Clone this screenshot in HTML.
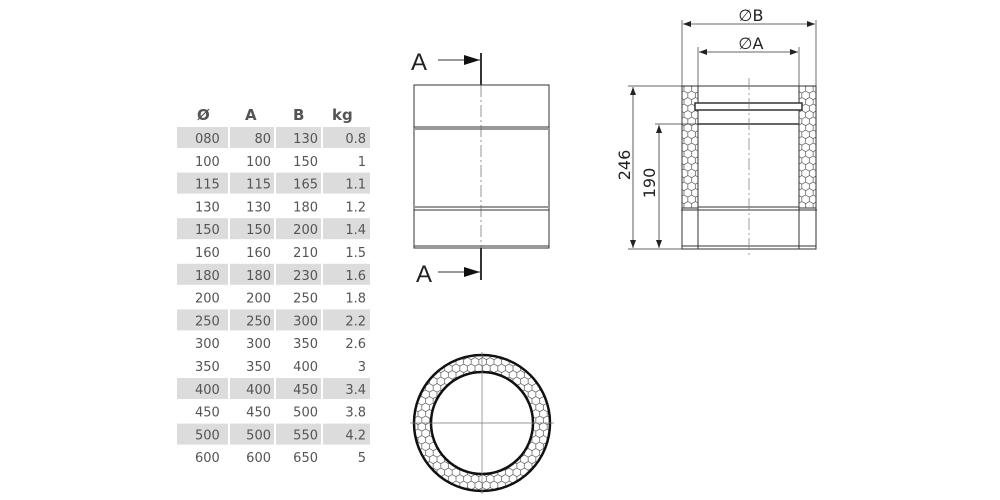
<!DOCTYPE html>
<html><head><meta charset="utf-8"><style>
html,body{margin:0;padding:0;background:#fff;width:1000px;height:500px;overflow:hidden}
svg{display:block}
.t{font-family:"DejaVu Sans","Liberation Sans",sans-serif;font-size:13px;fill:#555}
.h{font-family:"DejaVu Sans","Liberation Sans",sans-serif;font-size:15px;font-weight:bold;fill:#555}
.d{font-family:"DejaVu Sans","Liberation Sans",sans-serif;font-size:16px;fill:#222}
</style></head><body>
<svg width="1000" height="500" viewBox="0 0 1000 500" xmlns="http://www.w3.org/2000/svg">
<defs>
<pattern id="hx" width="7.6" height="13" patternUnits="userSpaceOnUse">
<path d="M0,0 L3.8,2.2 L3.8,6.5 L0,8.7 M3.8,2.2 L7.6,0 M3.8,6.5 L7.6,8.7 M0,8.7 L0,13 M7.6,8.7 L7.6,13" fill="none" stroke="#555" stroke-width="0.7"/>
</pattern>
<marker id="ar" markerWidth="8" markerHeight="6" refX="8" refY="3" orient="auto" markerUnits="userSpaceOnUse"><path d="M0,0 L8,3 L0,6z" fill="#222"/></marker>
<marker id="al" markerWidth="8" markerHeight="6" refX="0" refY="3" orient="auto" markerUnits="userSpaceOnUse"><path d="M8,0 L0,3 L8,6z" fill="#222"/></marker>
<marker id="big" markerWidth="16" markerHeight="10" refX="16" refY="5" orient="auto" markerUnits="userSpaceOnUse"><path d="M0,0 L16,5 L0,10z" fill="#111"/></marker>
</defs>

<g>
<text class="h" x="197" y="120">Ø</text>
<text class="h" x="245" y="120">A</text>
<text class="h" x="293" y="120">B</text>
<text class="h" x="332" y="120">kg</text>
</g>
<g fill="#dcdcdc">
<rect x="177" y="127" width="51" height="21"/><rect x="230" y="127" width="44" height="21"/><rect x="276" y="127" width="45" height="21"/><rect x="323" y="127" width="47" height="21"/>
<rect x="177" y="172.6" width="51" height="21"/><rect x="230" y="172.6" width="44" height="21"/><rect x="276" y="172.6" width="45" height="21"/><rect x="323" y="172.6" width="47" height="21"/>
<rect x="177" y="218.2" width="51" height="21"/><rect x="230" y="218.2" width="44" height="21"/><rect x="276" y="218.2" width="45" height="21"/><rect x="323" y="218.2" width="47" height="21"/>
<rect x="177" y="263.8" width="51" height="21"/><rect x="230" y="263.8" width="44" height="21"/><rect x="276" y="263.8" width="45" height="21"/><rect x="323" y="263.8" width="47" height="21"/>
<rect x="177" y="309.4" width="51" height="21"/><rect x="230" y="309.4" width="44" height="21"/><rect x="276" y="309.4" width="45" height="21"/><rect x="323" y="309.4" width="47" height="21"/>
<rect x="177" y="378" width="51" height="21"/><rect x="230" y="378" width="44" height="21"/><rect x="276" y="378" width="45" height="21"/><rect x="323" y="378" width="47" height="21"/>
<rect x="177" y="423.6" width="51" height="21"/><rect x="230" y="423.6" width="44" height="21"/><rect x="276" y="423.6" width="45" height="21"/><rect x="323" y="423.6" width="47" height="21"/>
</g>
<g class="t">
<text x="195" y="143">080</text><text x="271" y="143" text-anchor="end">80</text><text x="318" y="143" text-anchor="end">130</text><text x="366" y="143" text-anchor="end">0.8</text>
<text x="195" y="165.8">100</text><text x="271" y="165.8" text-anchor="end">100</text><text x="318" y="165.8" text-anchor="end">150</text><text x="366" y="165.8" text-anchor="end">1</text>
<text x="195" y="188.6">115</text><text x="271" y="188.6" text-anchor="end">115</text><text x="318" y="188.6" text-anchor="end">165</text><text x="366" y="188.6" text-anchor="end">1.1</text>
<text x="195" y="211.4">130</text><text x="271" y="211.4" text-anchor="end">130</text><text x="318" y="211.4" text-anchor="end">180</text><text x="366" y="211.4" text-anchor="end">1.2</text>
<text x="195" y="234.2">150</text><text x="271" y="234.2" text-anchor="end">150</text><text x="318" y="234.2" text-anchor="end">200</text><text x="366" y="234.2" text-anchor="end">1.4</text>
<text x="195" y="257">160</text><text x="271" y="257" text-anchor="end">160</text><text x="318" y="257" text-anchor="end">210</text><text x="366" y="257" text-anchor="end">1.5</text>
<text x="195" y="279.8">180</text><text x="271" y="279.8" text-anchor="end">180</text><text x="318" y="279.8" text-anchor="end">230</text><text x="366" y="279.8" text-anchor="end">1.6</text>
<text x="195" y="302.6">200</text><text x="271" y="302.6" text-anchor="end">200</text><text x="318" y="302.6" text-anchor="end">250</text><text x="366" y="302.6" text-anchor="end">1.8</text>
<text x="195" y="325.4">250</text><text x="271" y="325.4" text-anchor="end">250</text><text x="318" y="325.4" text-anchor="end">300</text><text x="366" y="325.4" text-anchor="end">2.2</text>
<text x="195" y="348.2">300</text><text x="271" y="348.2" text-anchor="end">300</text><text x="318" y="348.2" text-anchor="end">350</text><text x="366" y="348.2" text-anchor="end">2.6</text>
<text x="195" y="371">350</text><text x="271" y="371" text-anchor="end">350</text><text x="318" y="371" text-anchor="end">400</text><text x="366" y="371" text-anchor="end">3</text>
<text x="195" y="393.8">400</text><text x="271" y="393.8" text-anchor="end">400</text><text x="318" y="393.8" text-anchor="end">450</text><text x="366" y="393.8" text-anchor="end">3.4</text>
<text x="195" y="416.6">450</text><text x="271" y="416.6" text-anchor="end">450</text><text x="318" y="416.6" text-anchor="end">500</text><text x="366" y="416.6" text-anchor="end">3.8</text>
<text x="195" y="439.4">500</text><text x="271" y="439.4" text-anchor="end">500</text><text x="318" y="439.4" text-anchor="end">550</text><text x="366" y="439.4" text-anchor="end">4.2</text>
<text x="195" y="462.2">600</text><text x="271" y="462.2" text-anchor="end">600</text><text x="318" y="462.2" text-anchor="end">650</text><text x="366" y="462.2" text-anchor="end">5</text>
</g>

<!-- middle side view -->
<g fill="none" stroke="#333" stroke-width="1">
<rect x="414" y="85" width="135" height="163"/>
<line x1="414" y1="127" x2="549" y2="127"/><line x1="415" y1="129" x2="548" y2="129"/>
<line x1="415" y1="207" x2="548" y2="207"/><line x1="414" y1="210" x2="549" y2="210"/>
<line x1="414" y1="246" x2="549" y2="246"/>
<line x1="481" y1="85" x2="481" y2="248" stroke="#666" stroke-width="0.7" stroke-dasharray="12,3,2,3"/>
<line x1="481" y1="53" x2="481" y2="85" stroke-width="2"/>
<line x1="481" y1="248" x2="481" y2="280" stroke-width="2"/>
<line x1="438" y1="60" x2="480" y2="60" marker-end="url(#big)"/>
<line x1="438" y1="272" x2="480" y2="272" marker-end="url(#big)"/>
</g>
<text x="411" y="70" style="font-family:'Liberation Sans',sans-serif;font-size:24px;fill:#222">A</text>
<text x="416" y="282" style="font-family:'Liberation Sans',sans-serif;font-size:24px;fill:#222">A</text>

<!-- right section view -->
<g stroke="#333" stroke-width="1" fill="none">
<rect x="682" y="86" width="16" height="122" fill="url(#hx)"/>
<rect x="799" y="86" width="17" height="122" fill="url(#hx)"/>
<rect x="682" y="86" width="134" height="163"/>
<line x1="698" y1="86" x2="698" y2="249"/><line x1="799" y1="86" x2="799" y2="249"/>
<rect x="695" y="103" width="107" height="7" stroke-width="1.5" fill="#fff"/>
<line x1="698" y1="124" x2="799" y2="124" stroke-width="1.5"/>
<line x1="698" y1="207" x2="799" y2="207"/><line x1="698" y1="210" x2="799" y2="210"/>
<line x1="681" y1="210" x2="817" y2="210"/>
<line x1="682" y1="246" x2="816" y2="246"/>
<line x1="749" y1="78" x2="749" y2="258" stroke="#777" stroke-width="0.7" stroke-dasharray="12,3,2,3"/>
<line x1="682" y1="20" x2="682" y2="86" stroke-width="0.7"/><line x1="816" y1="20" x2="816" y2="86" stroke-width="0.7"/>
<line x1="698" y1="47" x2="698" y2="86" stroke-width="0.7"/><line x1="799" y1="47" x2="799" y2="86" stroke-width="0.7"/>
<line x1="683" y1="24" x2="815" y2="24" stroke-width="0.8" marker-start="url(#al)" marker-end="url(#ar)"/>
<line x1="699" y1="52" x2="798" y2="52" stroke-width="0.8" marker-start="url(#al)" marker-end="url(#ar)"/>
<line x1="628" y1="86" x2="682" y2="86" stroke-width="0.7"/><line x1="628" y1="249" x2="682" y2="249" stroke-width="0.7"/>
<line x1="655" y1="124" x2="698" y2="124" stroke-width="0.7"/>
<line x1="633" y1="87" x2="633" y2="248" stroke-width="0.8" marker-start="url(#al)" marker-end="url(#ar)"/>
<line x1="659" y1="125" x2="659" y2="248" stroke-width="0.8" marker-start="url(#al)" marker-end="url(#ar)"/>
</g>
<text class="d" x="751" y="21" text-anchor="middle">∅B</text>
<text class="d" x="751" y="49" text-anchor="middle">∅A</text>
<text class="d" transform="translate(630,165) rotate(-90)" text-anchor="middle">246</text>
<text class="d" transform="translate(655,183) rotate(-90)" text-anchor="middle">190</text>

<!-- circle -->
<g>
<circle cx="482" cy="423" r="59.5" fill="none" stroke="url(#hx)" stroke-width="17"/>
<circle cx="482" cy="423" r="68" fill="none" stroke="#111" stroke-width="2.5"/>
<circle cx="482" cy="423" r="51" fill="#fff" stroke="#111" stroke-width="2.5"/>
<line x1="410" y1="423" x2="554" y2="423" stroke="#777" stroke-width="0.7"/>
<line x1="482" y1="352" x2="482" y2="494" stroke="#777" stroke-width="0.7"/>
</g>
</svg>
</body></html>
